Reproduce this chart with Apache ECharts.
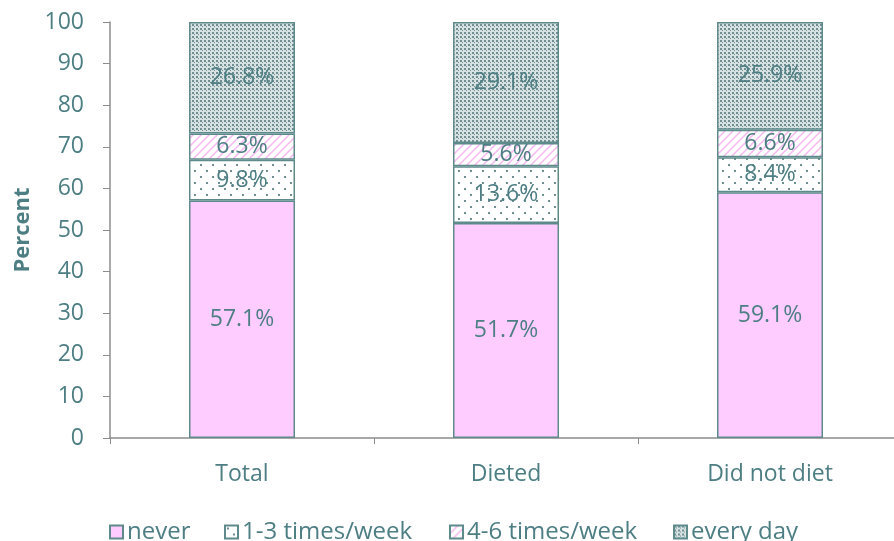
<!DOCTYPE html>
<html>
<head>
<meta charset="utf-8">
<script src="https://cdn.jsdelivr.net/npm/echarts@6/dist/echarts.min.js"></script>
<style>html,body{margin:0;padding:0;background:#fff}</style>
</head>
<body>
<div id="main" style="width:894px;height:541px;"></div>
<script>
// data
const categories = ['Total', 'Dieted', 'Did not diet'];
const seriesNames = ['never', '1-3 times/week', '4-6 times/week', 'every day'];
const never = [57.1, 51.7, 59.1];
const times13 = [9.8, 13.6, 8.4];
const times46 = [6.3, 5.6, 6.6];
const everyDay = [26.8, 29.1, 25.9];
const yTicks = [0, 10, 20, 30, 40, 50, 60, 70, 80, 90, 100];

const txt = '#4d7e83';
const edge = '#5f8a8c';
const font = '"Open Sans", sans-serif';

// little canvas patterns for the fills
function pattern(size, draw) {
  const c = document.createElement('canvas');
  c.width = size; c.height = size;
  const g = c.getContext('2d');
  g.fillStyle = '#fff';
  g.fillRect(0, 0, size, size);
  draw(g);
  return { image: c, repeat: 'repeat' };
}
const sparseDots = pattern(12, g => {
  g.fillStyle = '#6f8f92';
  g.fillRect(2, 2, 2, 2);
  g.fillRect(8, 8, 2, 2);
});
const stripes = pattern(8, g => {
  g.strokeStyle = '#f5b8f0';
  g.lineWidth = 1.5;
  g.beginPath();
  g.moveTo(0, 8); g.lineTo(8, 0);
  g.moveTo(-2, 2); g.lineTo(2, -2);
  g.moveTo(6, 10); g.lineTo(10, 6);
  g.stroke();
});
const denseDots = pattern(4, g => {
  g.fillStyle = '#d8e2e2';
  g.fillRect(0, 0, 4, 4);
  g.fillStyle = '#6f8f92';
  g.fillRect(0, 0, 2, 2);
  g.fillRect(2, 2, 1, 1);
});

function fmt(p) { return p.value.toFixed(1) + '%'; }

function bar(name, data, fill) {
  return {
    name: name,
    type: 'bar',
    stack: 'all',
    barWidth: 106,
    data: data,
    itemStyle: { color: fill, borderColor: edge, borderWidth: 1.5 },
    label: {
      show: true,
      position: 'inside',
      formatter: fmt,
      color: txt,
      fontFamily: font,
      fontSize: 23,
      padding: [4, 0, 0, 0]
    }
  };
}

// one legend per entry so each sits where the original has it
const legendLeft = [104, 219, 444, 668];
const legends = seriesNames.map((n, i) => ({
  left: legendLeft[i],
  top: 515,
  itemWidth: 13,
  itemHeight: 13,
  icon: 'rect',
  textStyle: { color: txt, fontFamily: font, fontSize: 24, padding: [0, 0, 0, -1] },
  data: [n]
}));

const chart = echarts.init(document.getElementById('main'));
chart.setOption({
  animation: false,
  grid: { left: 110, right: -8, top: 22, bottom: 103, outerBoundsMode: 'none' },
  legend: legends,
  xAxis: {
    type: 'category',
    data: categories,
    axisLine: { lineStyle: { color: '#8c8c8c', width: 1.5 } },
    axisTick: { show: true, length: 6, lineStyle: { color: '#8c8c8c' } },
    axisLabel: { color: txt, fontFamily: font, fontSize: 23, margin: 25 }
  },
  yAxis: {
    type: 'value',
    min: yTicks[0],
    max: yTicks[yTicks.length - 1],
    interval: 10,
    name: 'Percent',
    nameLocation: 'middle',
    nameGap: 76,
    nameTextStyle: { color: txt, fontFamily: font, fontSize: 22, fontWeight: 'bold' },
    axisLine: { show: true, lineStyle: { color: '#8c8c8c', width: 1.5 } },
    axisTick: { show: true, length: 7, lineStyle: { color: '#8c8c8c' } },
    splitLine: { show: false },
    axisLabel: { color: txt, fontFamily: font, fontSize: 23, margin: 26 }
  },
  series: [
    bar(seriesNames[0], never, '#ffccff'),
    bar(seriesNames[1], times13, sparseDots),
    bar(seriesNames[2], times46, stripes),
    bar(seriesNames[3], everyDay, denseDots)
  ]
});
</script>
</body>
</html>
